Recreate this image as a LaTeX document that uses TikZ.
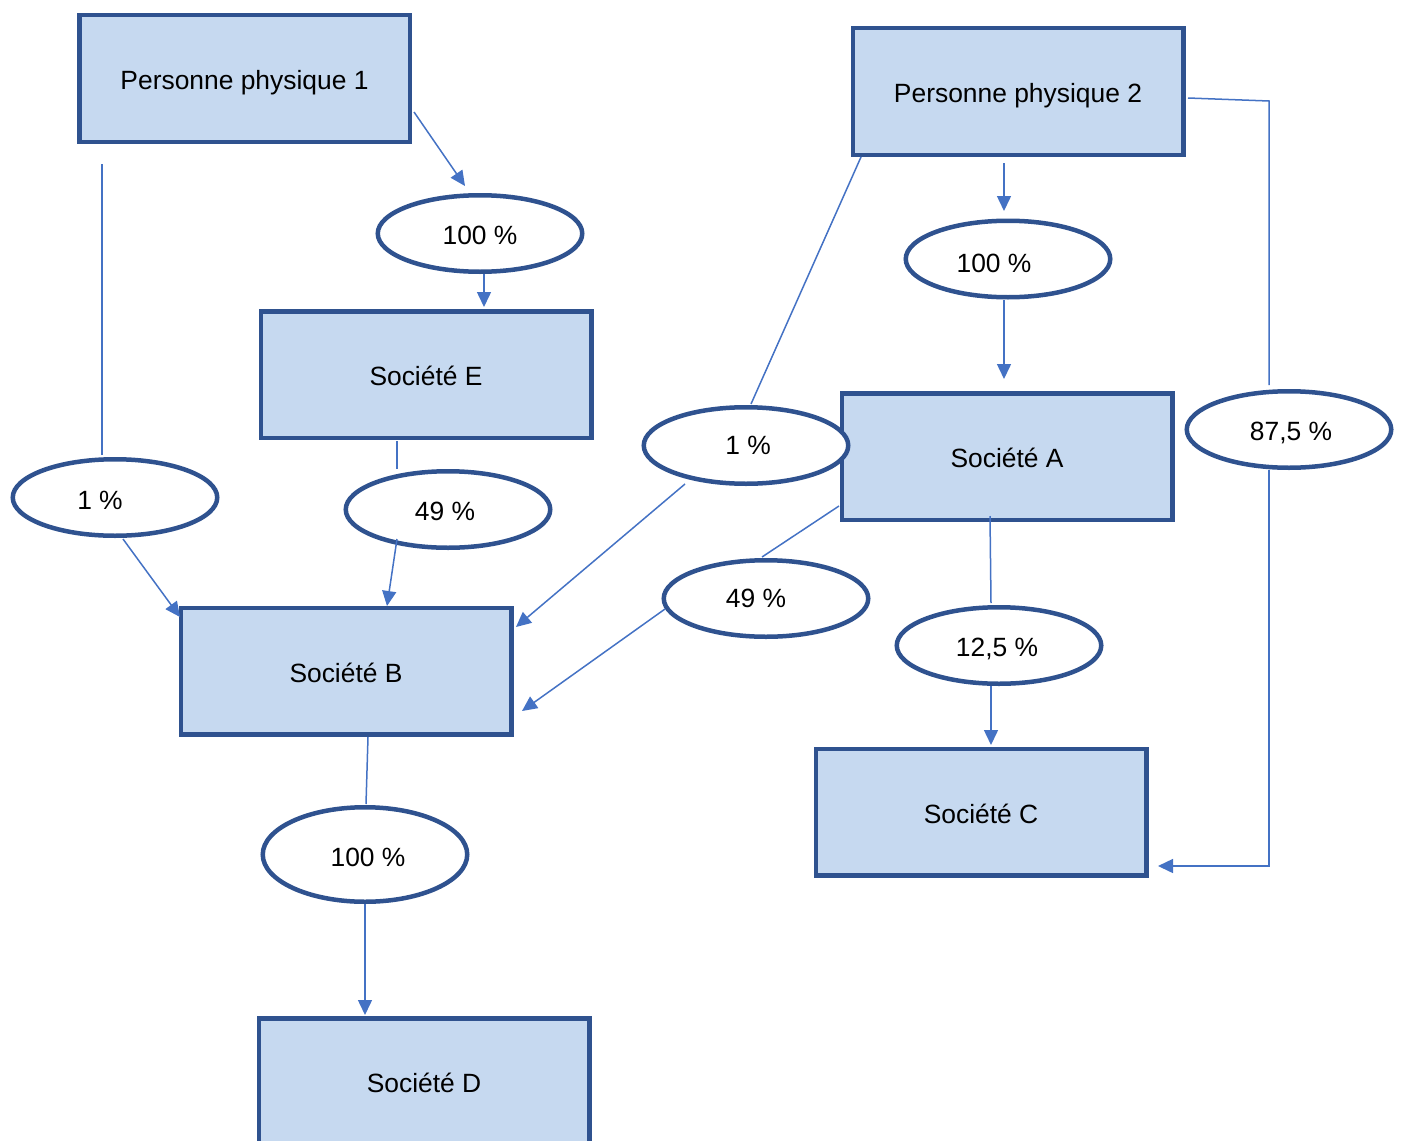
\documentclass[tikz,border=0pt]{standalone}
\usepackage{fontspec}
\setmainfont{Liberation Sans}
\usetikzlibrary{calc,arrows.meta,shapes.geometric}
\definecolor{boxfill}{HTML}{C6D9F0}
\definecolor{boxline}{HTML}{2F528F}
\definecolor{linkcol}{HTML}{4472C4}
\tikzset{
  box/.style={draw=boxline, line width=4.5pt, fill=boxfill, minimum width=330.5pt, minimum height=126.5pt, inner sep=0pt, outer sep=0pt, text height=22pt, text depth=0pt, font=\fontsize{26.4}{30}\selectfont},
  pct/.style={ellipse, draw=boxline, line width=4.5pt, fill=white, minimum width=204.5pt, minimum height=76.5pt, inner sep=0pt, outer sep=0pt},
  pcttext/.style={inner sep=0pt, font=\fontsize{26.4}{30}\selectfont},
  link/.style={draw=linkcol, line width=1.5pt},
  arr/.style={link, -{Triangle[length=15pt,width=14pt]}}
}
\begin{document}
\begin{tikzpicture}[x=1pt,y=-1pt]
\clip (0,0) rectangle (1402,1140);
% boxes
\node[box] (pp1) at (244.5,78.5) {Personne physique 1};
\node[box] (pp2) at (1018,91.5) {Personne physique 2};
\node[box] (se) at (426,374.5) {Société E};
\node[box] (sa) at (1007,456.5) {Société A};
\node[box] (sb) at (346,671) {Société B};
\node[box] (sc) at (981,812) {Société C};
\node[box] (sd) at (424,1081.5) {Société D};
% ellipses
\node[pct] (eA) at (480,233.5) {};
\node[pct] (eB) at (1008,259) {};
\node[pct] (eC) at (115,497.5) {};
\node[pct] (eD) at (448,509.5) {};
\node[pct] (eE) at (746,445.5) {};
\node[pct] (eF) at (1289,429.5) {};
\node[pct] (eG) at (766,598.5) {};
\node[pct] (eH) at (999,645.5) {};
\node[pct, minimum height=94.5pt] (eI) at (365,854.5) {};
% ellipse texts
\node[pcttext] (tA) at (480,235) {100 \%};
\node[pcttext] (tB) at (994,263) {100 \%};
\node[pcttext] (tC) at (100,500) {1 \%};
\node[pcttext] (tD) at (445,511) {49 \%};
\node[pcttext] (tE) at (748,445) {1 \%};
\node[pcttext] (tF) at (1291,433) {87,5 \%};
\node[pcttext] (tG) at (756,598) {49 \%};
\node[pcttext] (tH) at (997,649) {12,5 \%};
\node[pcttext] (tI) at (368,857) {100 \%};
% connectors
\draw[arr] ($(pp1)+(169.5,33.5)$) -- ($(eA)+(-15,-47.5)$);
\draw[arr] ($(eA)+(4,40.5)$) -- ($(se)+(58,-67.5)$);
\draw[link] ($(pp1)+(-142.5,85.5)$) -- ($(eC)+(-13,-42.5)$);
\draw[arr] ($(eC)+(8,41.5)$) -- ($(sb)+(-166,-54)$);
\draw[link] ($(se)+(-29,66.5)$) -- ($(eD)+(-51,-40.5)$);
\draw[arr] ($(eD)+(-51,29.5)$) -- ($(sb)+(41,-65)$);
\draw[link] ($(pp2)+(-157,65.5)$) -- ($(eE)+(5,-41.5)$);
\draw[arr] ($(eE)+(-61,38.5)$) -- ($(sb)+(170,-44)$);
\draw[arr] ($(pp2)+(-14,71.5)$) -- ($(eB)+(-4,-48)$);
\draw[arr] ($(eB)+(-4,41)$) -- ($(sa)+(-3,-77.5)$);
\draw[link] ($(pp2)+(170,6.5)$) -- ++(81,3) -- ($(eF)+(-20,-44.5)$);
\draw[arr] ($(eF)+(-20,40.5)$) |- ($(sc)+(177,54)$);
\draw[link] ($(sa)+(-168,49.5)$) -- ($(eG)+(-4,-41.5)$);
\draw[arr] ($(eG)+(-101,10.5)$) -- ($(sb)+(176,40)$);
\draw[link] ($(sa)+(-17,59.5)$) -- ($(eH)+(-8,-42.5)$);
\draw[arr] ($(eH)+(-8,40.5)$) -- ($(sc)+(10,-67)$);
\draw[link] ($(sb)+(22,66)$) -- ($(eI)+(1,-50.5)$);
\draw[arr] ($(eI)+(0,49.5)$) -- ($(sd)+(-59,-66.5)$);
\end{tikzpicture}
\end{document}
